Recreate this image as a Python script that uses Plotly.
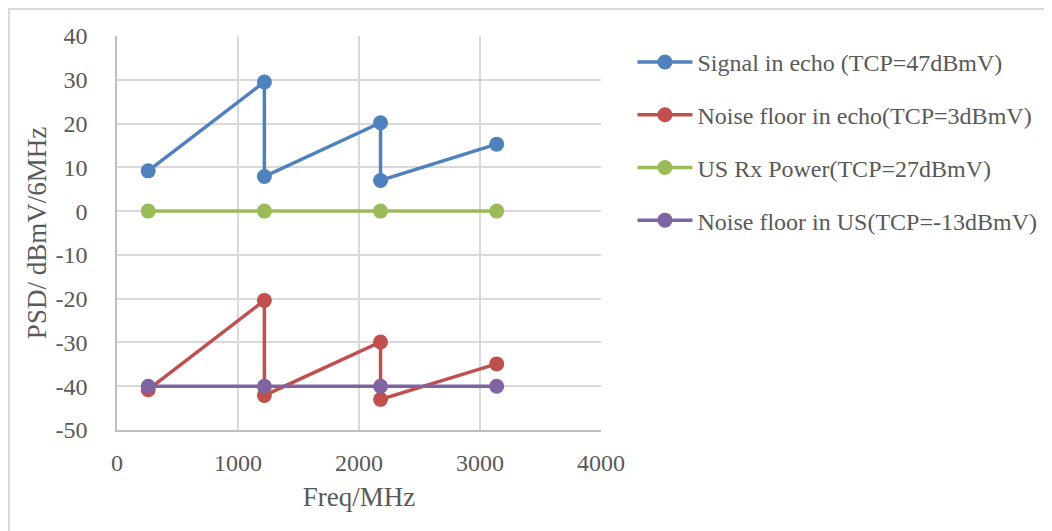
"""PSD vs frequency: echo signal/noise and upstream levels."""

import plotly.graph_objects as go

FREQ_STEP = [258, 1218, 1218, 2178, 2178, 3138]
FREQ = [258, 1218, 2178, 3138]

SIGNAL_ECHO = [9.2, 29.5, 7.9, 20.2, 7.0, 15.3]
NOISE_ECHO = [-40.8, -20.4, -42.1, -29.9, -43.0, -34.9]
US_RX = [0, 0, 0, 0]
NOISE_US = [-40, -40, -40, -40]

X_TICKS = [0, 1000, 2000, 3000, 4000]
Y_TICKS = [40, 30, 20, 10, 0, -10, -20, -30, -40, -50]

FONT = "Liberation Serif"
TEXT_COLOR = "#595959"
GRID = "#d9d9d9"

series = [
    ("Signal in echo (TCP=47dBmV)", FREQ_STEP, SIGNAL_ECHO, "#4f81bd"),
    ("Noise floor in echo(TCP=3dBmV)", FREQ_STEP, NOISE_ECHO, "#c0504d"),
    ("US Rx Power(TCP=27dBmV)", FREQ, US_RX, "#9bbb59"),
    ("Noise floor in US(TCP=-13dBmV)", FREQ, NOISE_US, "#8064a2"),
]

fig = go.Figure()

for i, (name, xs, ys, color) in enumerate(series):
    fig.add_trace(
        go.Scatter(
            x=xs,
            y=ys,
            mode="lines+markers",
            name=name,
            legendgroup=f"g{i}",
            line={"color": color, "width": 3.5},
            marker={"color": color, "size": 15},
        )
    )

# page body adds ~8px offset; plot area lands at 117..601 x 36..430 px
fig.update_layout(
    width=1052,
    height=531,
    margin={"l": 109, "r": 459, "t": 28, "b": 109},
    paper_bgcolor="white",
    plot_bgcolor="white",
    font={"family": FONT, "color": TEXT_COLOR, "size": 24},
    showlegend=True,
    legend={
        "x": 1.065,
        "y": 0.99,
        "xanchor": "left",
        "yanchor": "top",
        "font": {"size": 24, "color": TEXT_COLOR},
        "traceorder": "grouped",
        "tracegroupgap": 18.5,
        "itemwidth": 55,
        "bgcolor": "rgba(0,0,0,0)",
    },
    shapes=[
        {
            "type": "rect",
            "xref": "paper",
            "yref": "paper",
            "x0": -0.2231,
            "x1": 1.96,
            "y0": -0.28,
            "y1": 1.0685,
            "line": {"color": GRID, "width": 2},
            "layer": "below",
        }
    ],
)

fig.update_xaxes(
    range=[0, 4000],
    tickvals=X_TICKS,
    ticktext=[str(v) for v in X_TICKS],
    showgrid=True,
    gridcolor=GRID,
    gridwidth=1.5,
    showline=True,
    linecolor="#bfbfbf",
    linewidth=1.5,
    zeroline=False,
    ticks="",
    ticklabelstandoff=10,
    tickfont={"size": 24},
    title={"text": "Freq/MHz", "font": {"size": 27}, "standoff": 13},
)

fig.update_yaxes(
    range=[-50, 40],
    tickvals=Y_TICKS,
    ticktext=[str(v) for v in Y_TICKS],
    showgrid=True,
    gridcolor=GRID,
    gridwidth=1.5,
    showline=True,
    linecolor="#bfbfbf",
    linewidth=1.5,
    zeroline=False,
    ticks="",
    ticklabelstandoff=23,
    tickfont={"size": 24},
    title={"text": "PSD/ dBmV/6MHz", "font": {"size": 27}, "standoff": 1},
)

fig.write_html("out.html")
